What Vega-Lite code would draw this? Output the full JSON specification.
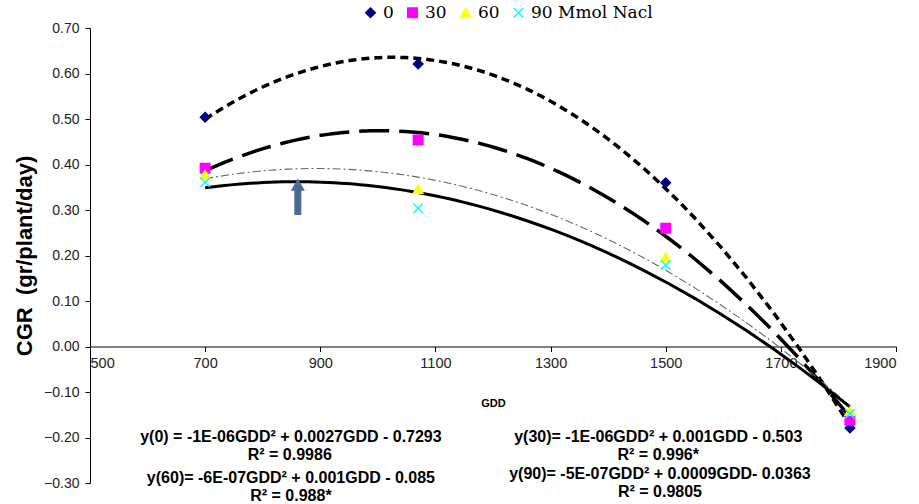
{
  "$schema": "https://vega.github.io/schema/vega-lite/v6.json",
  "width": 806,
  "height": 455,
  "autosize": {"type": "none"},
  "padding": {"left": 90, "top": 28, "right": 23, "bottom": 21},
  "background": "white",
  "config": {
    "view": {"stroke": null},
    "axis": {
      "grid": false,
      "domainColor": "black",
      "tickColor": "black",
      "tickSize": 5,
      "labelFont": "Liberation Sans",
      "labelFontSize": 14,
      "labelColor": "#222222",
      "titleFont": "Liberation Sans",
      "titleFontWeight": "bold",
      "titleColor": "black"
    }
  },
  "datasets": {
    "obs": [
      {"series": "0", "GDD": 700, "CGR": 0.504},
      {"series": "0", "GDD": 1070, "CGR": 0.621},
      {"series": "0", "GDD": 1500, "CGR": 0.360},
      {"series": "0", "GDD": 1820, "CGR": -0.179},
      {"series": "30", "GDD": 700, "CGR": 0.392},
      {"series": "30", "GDD": 1070, "CGR": 0.454},
      {"series": "30", "GDD": 1500, "CGR": 0.260},
      {"series": "30", "GDD": 1820, "CGR": -0.162},
      {"series": "60", "GDD": 700, "CGR": 0.378},
      {"series": "60", "GDD": 1070, "CGR": 0.346},
      {"series": "60", "GDD": 1500, "CGR": 0.196},
      {"series": "60", "GDD": 1820, "CGR": -0.142},
      {"series": "90 Mmol Nacl", "GDD": 700, "CGR": 0.361},
      {"series": "90 Mmol Nacl", "GDD": 1070, "CGR": 0.304},
      {"series": "90 Mmol Nacl", "GDD": 1500, "CGR": 0.179},
      {"series": "90 Mmol Nacl", "GDD": 1820, "CGR": -0.148}
    ],
    "arrow": [{"GDD": 861, "CGR": 0.289, "CGR2": 0.35, "head": 0.356}],
    "eq": [
      {"GDD": 849, "CGR": -0.199, "label": "y(0) = -1E-06GDD² + 0.0027GDD - 0.7293"},
      {"GDD": 847, "CGR": -0.238, "label": "R² = 0.9986"},
      {"GDD": 849, "CGR": -0.289, "label": "y(60)= -6E-07GDD² + 0.001GDD - 0.085"},
      {"GDD": 849, "CGR": -0.329, "label": "R² = 0.988*"},
      {"GDD": 1487, "CGR": -0.199, "label": "y(30)= -1E-06GDD² + 0.001GDD - 0.503"},
      {"GDD": 1487, "CGR": -0.238, "label": "R² = 0.996*"},
      {"GDD": 1490, "CGR": -0.280, "label": "y(90)= -5E-07GDD² + 0.0009GDD- 0.0363"},
      {"GDD": 1490, "CGR": -0.320, "label": "R² = 0.9805"}
    ]
  },
  "encoding": {
    "x": {
      "field": "GDD",
      "type": "quantitative",
      "title": "GDD",
      "scale": {"domain": [500, 1900], "nice": false, "zero": false},
      "axis": {
        "values": [500, 700, 900, 1100, 1300, 1500, 1700, 1900],
        "format": "d",
        "offset": -136.5,
        "labelPadding": 5,
        "labelFontSize": 14.5,
        "titleFontSize": 11,
        "titlePadding": 27
      }
    },
    "y": {
      "field": "CGR",
      "type": "quantitative",
      "title": "CGR\u00a0\u00a0(gr/plant/day)",
      "scale": {"domain": [-0.3, 0.7], "nice": false, "zero": false},
      "axis": {
        "values": [-0.3, -0.2, -0.1, 0, 0.1, 0.2, 0.3, 0.4, 0.5, 0.6, 0.7],
        "format": ".2f",
        "labelPadding": 6,
        "titleFontSize": 22,
        "titlePadding": 7
      }
    }
  },
  "layer": [
    {
      "data": {"name": "obs"},
      "transform": [
        {"filter": "datum.series == '0'"},
        {"regression": "CGR", "on": "GDD", "method": "poly", "order": 2}
      ],
      "mark": {"type": "line", "color": "black", "strokeWidth": 3.5, "strokeDash": [8, 5]}
    },
    {
      "data": {"name": "obs"},
      "transform": [
        {"filter": "datum.series == '30'"},
        {"regression": "CGR", "on": "GDD", "method": "poly", "order": 2}
      ],
      "mark": {"type": "line", "color": "black", "strokeWidth": 3.5, "strokeDash": [30, 10]}
    },
    {
      "data": {"name": "obs"},
      "transform": [
        {"filter": "datum.series == '60'"},
        {"regression": "CGR", "on": "GDD", "method": "poly", "order": 2}
      ],
      "mark": {"type": "line", "color": "#666666", "strokeWidth": 1.1, "strokeDash": [8, 3, 2, 3]}
    },
    {
      "data": {"name": "obs"},
      "transform": [
        {"filter": "datum.series == '90 Mmol Nacl'"},
        {"regression": "CGR", "on": "GDD", "method": "poly", "order": 2}
      ],
      "mark": {"type": "line", "color": "black", "strokeWidth": 3}
    },
    {
      "data": {"name": "obs"},
      "mark": {"type": "point", "filled": true, "size": 90, "opacity": 1, "strokeWidth": 1.5},
      "encoding": {
        "fill": {
          "field": "series", "type": "nominal",
          "scale": {"domain": ["0", "30", "60", "90 Mmol Nacl"], "range": ["#000080", "#FF00FF", "#FFFF00", "#00FFFF"]},
          "legend": {"orient": "none", "legendX": 272, "legendY": -24, "direction": "horizontal", "title": null,
            "labelFont": "DejaVu Serif", "labelFontSize": 17, "labelColor": "black", "symbolSize": 90,
            "symbolStrokeWidth": 1.5, "columnPadding": 10, "labelOffset": 4}
        },
        "stroke": {
          "field": "series", "type": "nominal",
          "scale": {"domain": ["0", "30", "60", "90 Mmol Nacl"], "range": ["#000080", "#FF00FF", "#FFFF00", "#00FFFF"]},
          "legend": {"orient": "none", "legendX": 272, "legendY": -24, "direction": "horizontal", "title": null,
            "labelFont": "DejaVu Serif", "labelFontSize": 17, "labelColor": "black", "symbolSize": 90,
            "symbolStrokeWidth": 1.5, "columnPadding": 10, "labelOffset": 4}
        },
        "shape": {
          "field": "series", "type": "nominal",
          "scale": {"domain": ["0", "30", "60", "90 Mmol Nacl"], "range": ["diamond", "square", "triangle-up", "M-1,-1L1,1M-1,1L1,-1"]},
          "legend": {"orient": "none", "legendX": 272, "legendY": -24, "direction": "horizontal", "title": null,
            "labelFont": "DejaVu Serif", "labelFontSize": 17, "labelColor": "black", "symbolSize": 90,
            "symbolStrokeWidth": 1.5, "columnPadding": 10, "labelOffset": 4}
        }
      }
    },
    {
      "data": {"name": "arrow"},
      "mark": {"type": "rule", "color": "#4B6A93", "strokeWidth": 7, "strokeCap": "butt"},
      "encoding": {
        "y2": {"field": "CGR2"}
      }
    },
    {
      "data": {"name": "arrow"},
      "mark": {"type": "point", "shape": "triangle-up", "filled": true, "color": "#4B6A93", "size": 200, "opacity": 1},
      "encoding": {
        "y": {"field": "head", "type": "quantitative"}
      }
    },
    {
      "data": {"name": "eq"},
      "mark": {"type": "text", "font": "Liberation Sans", "fontWeight": "bold", "fontSize": 16, "color": "black", "align": "center", "baseline": "middle"},
      "encoding": {
        "text": {"field": "label"}
      }
    }
  ]
}
